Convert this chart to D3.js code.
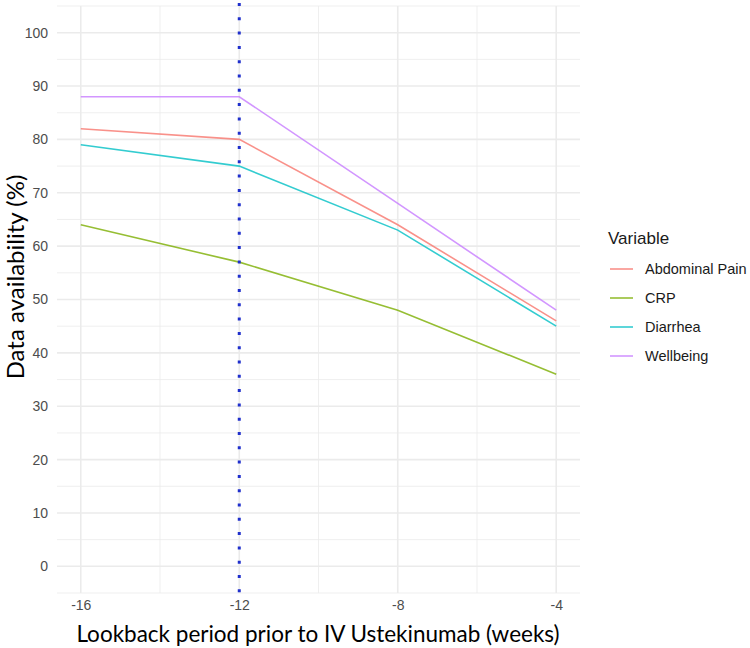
<!DOCTYPE html>
<html>
<head>
<meta charset="utf-8" />
<title>Data availability</title>
<script src="https://d3js.org/d3.v7.min.js"></script>
<style>
body { margin: 0; background: white; }
.tick text { font-family: "Liberation Sans", Arial, sans-serif; }
.title { font-family: "Lato", "Open Sans", sans-serif; }
</style>
</head>
<body>
<script>
var width = 750;
var height = 648;

// data
var weeks = [-16, -12, -8, -4];
var variables = ["Abdominal Pain", "CRP", "Diarrhea", "Wellbeing"];
var abdominalPain = [82, 80, 64, 46];
var crp = [64, 57, 48, 36];
var diarrhea = [79, 75, 63, 45];
var wellbeing = [88, 88, 68, 48];
var colors = ["#F8766D", "#7CAE00", "#00BFC4", "#C77CFF"];
var yTicks = [0, 10, 20, 30, 40, 50, 60, 70, 80, 90, 100];
var cutoff = -12;

var seriesValues = [abdominalPain, crp, diarrhea, wellbeing];

var svg = d3.select("body").append("svg")
  .attr("width", width)
  .attr("height", height);

var x = d3.scaleLinear().domain([-16.6, -3.4]).range([57, 580]);
var y = d3.scaleLinear().domain([-5, 105]).range([593, 6]);

// grid
var grid = svg.append("g");
d3.range(-5, 106, 10).forEach(function(v) {
  grid.append("line").attr("x1", 57).attr("x2", 580)
    .attr("y1", y(v)).attr("y2", y(v))
    .attr("stroke", "#EBEBEB").attr("stroke-width", 0.8);
});
[-14, -10, -6].forEach(function(v) {
  grid.append("line").attr("y1", 6).attr("y2", 593)
    .attr("x1", x(v)).attr("x2", x(v))
    .attr("stroke", "#EBEBEB").attr("stroke-width", 0.8);
});
yTicks.forEach(function(v) {
  grid.append("line").attr("x1", 57).attr("x2", 580)
    .attr("y1", y(v)).attr("y2", y(v))
    .attr("stroke", "#EBEBEB").attr("stroke-width", 1.6);
});
weeks.forEach(function(v) {
  grid.append("line").attr("y1", 6).attr("y2", 593)
    .attr("x1", x(v)).attr("x2", x(v))
    .attr("stroke", "#EBEBEB").attr("stroke-width", 1.6);
});

// lines
var line = d3.line()
  .x(function(d, i) { return x(weeks[i]); })
  .y(function(d) { return y(d); });

seriesValues.forEach(function(vals, i) {
  svg.append("path")
    .attr("d", line(vals))
    .attr("fill", "none")
    .attr("stroke", colors[i])
    .attr("stroke-opacity", 0.8)
    .attr("stroke-width", 1.6);
});

// dotted vertical reference line
svg.append("line")
  .attr("x1", x(cutoff)).attr("x2", x(cutoff))
  .attr("y1", 3).attr("y2", 596)
  .attr("stroke", "#1f2fcc")
  .attr("stroke-width", 3)
  .attr("stroke-dasharray", "3,11.3");

// axes
var yAxis = svg.append("g")
  .attr("transform", "translate(57,0)")
  .call(d3.axisLeft(y).tickValues(yTicks).tickSize(0).tickPadding(9));
yAxis.select(".domain").remove();
yAxis.selectAll("text").attr("fill", "#4D4D4D").attr("font-size", 14);

var xAxis = svg.append("g")
  .attr("transform", "translate(0,593)")
  .call(d3.axisBottom(x).tickValues(weeks).tickSize(0).tickPadding(7)
    .tickFormat(function(d) { return String(d); }));
xAxis.select(".domain").remove();
xAxis.selectAll("text").attr("fill", "#4D4D4D").attr("font-size", 14);

svg.append("text").attr("class", "title")
  .attr("x", 318).attr("y", 642)
  .attr("text-anchor", "middle")
  .attr("font-size", 22.5)
  .attr("fill", "#000")
  .text("Lookback period prior to IV Ustekinumab (weeks)");

svg.append("text").attr("class", "title")
  .attr("transform", "translate(24,277) rotate(-90)")
  .attr("text-anchor", "middle")
  .attr("font-size", 24)
  .attr("fill", "#000")
  .text("Data availability (%)");

// legend
var legend = svg.append("g").attr("transform", "translate(608,0)");
legend.append("text")
  .attr("x", 0).attr("y", 244)
  .attr("font-family", "Liberation Sans, Arial, sans-serif")
  .attr("font-size", 17).attr("fill", "#1a1a1a")
  .text("Variable");
variables.forEach(function(name, i) {
  var ly = 269 + i * 29;
  legend.append("line")
    .attr("x1", 2).attr("x2", 25).attr("y1", ly).attr("y2", ly)
    .attr("stroke", colors[i]).attr("stroke-opacity", 0.8).attr("stroke-width", 1.6);
  legend.append("text")
    .attr("x", 37).attr("y", ly).attr("dy", "0.35em")
    .attr("font-family", "Liberation Sans, Arial, sans-serif")
    .attr("font-size", 14.5).attr("fill", "#1a1a1a")
    .text(name);
});
</script>
</body>
</html>
